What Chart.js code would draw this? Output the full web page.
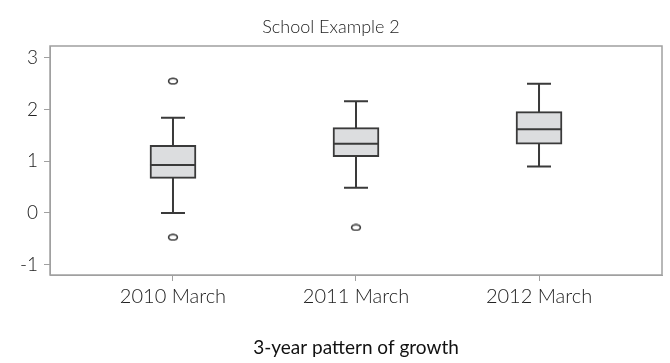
<!DOCTYPE html>
<html>
<head>
<meta charset="utf-8">
<script src="https://cdn.jsdelivr.net/npm/chart.js@4/dist/chart.umd.min.js"></script>
<style>
  html, body { margin: 0; padding: 0; background: #fff; }
  #wrap { width: 670px; height: 363px; }
</style>
</head>
<body>
<div id="wrap"><canvas id="c"></canvas></div>
<script>
// categories sit at x = 1, 2, 3
const categories = ['2010 March', '2011 March', '2012 March'];
const positions  = [1, 2, 3];
const whiskerLow  = [0.0, 0.49, 0.90];
const quartile1   = [0.67, 1.09, 1.33];
const medians     = [0.93, 1.34, 1.62];
const quartile3   = [1.31, 1.65, 1.96];
const whiskerHigh = [1.84, 2.16, 2.50];
// outliers
const outlierX = [1, 1, 2];
const outlierY = [2.55, -0.47, -0.28];
const yTicks = [-1, 0, 1, 2, 3];

const FONT = '"Lato", "Open Sans", sans-serif';
const INK = '#3a3a3a';
const FRAME = '#a0a0a0';

// flat open ellipse for the outlier marker
const ring = document.createElement('canvas');
ring.width = 12; ring.height = 8;
(() => {
  const g = ring.getContext('2d');
  g.strokeStyle = INK;
  g.lineWidth = 1.6;
  g.beginPath();
  g.ellipse(6, 4, 4.4, 2.8, 0, 0, Math.PI * 2);
  g.stroke();
})();

// whiskers under the box, median + frame on top
const boxParts = {
  id: 'boxParts',
  beforeDatasetsDraw(chart) {
    const { ctx, scales: { x, y } } = chart;
    ctx.save();
    ctx.strokeStyle = INK;
    ctx.lineWidth = 2;
    positions.forEach((p, i) => {
      const cx = x.getPixelForValue(p);
      const top = y.getPixelForValue(whiskerHigh[i]);
      const bot = y.getPixelForValue(whiskerLow[i]);
      ctx.beginPath();
      ctx.moveTo(cx, top); ctx.lineTo(cx, bot);
      ctx.moveTo(cx - 12, top); ctx.lineTo(cx + 12, top);
      ctx.moveTo(cx - 12, bot); ctx.lineTo(cx + 12, bot);
      ctx.stroke();
    });
    ctx.restore();
  },
  afterDatasetsDraw(chart) {
    const { ctx, chartArea: a, scales: { x, y } } = chart;
    ctx.save();
    ctx.strokeStyle = INK;
    ctx.lineWidth = 2;
    positions.forEach((p, i) => {
      const cx = x.getPixelForValue(p);
      const my = y.getPixelForValue(medians[i]);
      ctx.beginPath();
      ctx.moveTo(cx - 23, my); ctx.lineTo(cx + 23, my);
      ctx.stroke();
    });
    ctx.strokeStyle = FRAME;
    ctx.lineWidth = 1.5;
    ctx.strokeRect(a.left, a.top, a.right - a.left, a.bottom - a.top);
    ctx.restore();
  }
};

new Chart(document.getElementById('c'), {
  data: {
    datasets: [
      {
        type: 'bar',
        data: positions.map((p, i) => ({ x: p, y: [quartile1[i], quartile3[i]] })),
        backgroundColor: '#dcdddf',
        borderColor: INK,
        borderWidth: 2,
        borderSkipped: false,
        barThickness: 46
      },
      {
        type: 'scatter',
        data: outlierX.map((v, i) => ({ x: v, y: outlierY[i] })),
        pointStyle: ring,
        pointRadius: 4
      }
    ]
  },
  options: {
    responsive: true,
    maintainAspectRatio: false,
    animation: false,
    layout: { padding: { left: 0, right: 8, top: 0, bottom: 4 } },
    plugins: {
      legend: { display: false },
      tooltip: { enabled: false },
      title: {
        display: true,
        text: 'School Example 2',
        color: '#222',
        font: { family: FONT, size: 18, weight: 300, lineHeight: 1 },
        padding: { top: 18, bottom: 10 }
      }
    },
    scales: {
      x: {
        type: 'linear',
        offset: false,
        min: 0.328,
        max: 3.672,
        afterBuildTicks: s => { s.ticks = positions.map(v => ({ value: v })); },
        afterFit: s => { s.height = 84; },
        ticks: {
          callback: v => categories[positions.indexOf(v)] || '',
          color: '#222',
          font: { family: FONT, size: 20, weight: 300 },
          padding: 4,
          maxRotation: 0
        },
        grid: { offset: false, drawOnChartArea: false, drawTicks: true, tickLength: 6, color: FRAME },
        border: { display: true, color: FRAME },
        title: {
          display: true,
          text: '3-year pattern of growth',
          color: '#111',
          font: { family: FONT, size: 19 },
          padding: { top: 0, bottom: 0 }
        }
      },
      y: {
        min: -1.2,
        max: 3.23,
        afterBuildTicks: s => { s.ticks = yTicks.map(v => ({ value: v })); },
        afterFit: s => { s.width = 50; },
        ticks: {
          color: '#222',
          font: { family: FONT, size: 19, weight: 300 },
          padding: 6
        },
        grid: { drawOnChartArea: false, drawTicks: true, tickLength: 6, color: FRAME },
        border: { display: true, color: FRAME }
      }
    }
  },
  plugins: [boxParts]
});
</script>
</body>
</html>
